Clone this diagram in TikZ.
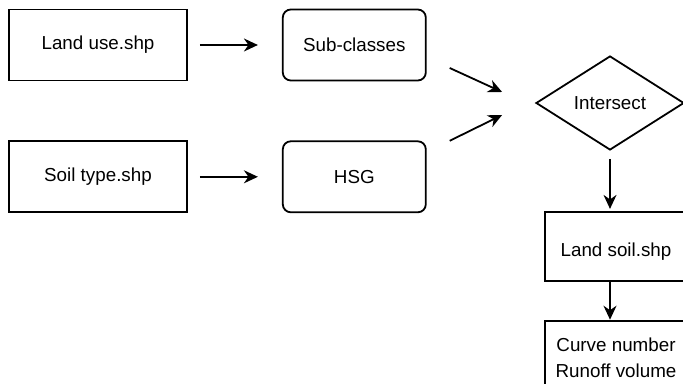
\documentclass[tikz,border=0pt]{standalone}
\usepackage{fontspec}
\setmainfont{Liberation Sans}
\usetikzlibrary{positioning, arrows.meta, shapes.geometric}

\begin{document}
\begin{tikzpicture}[x=0.5pt, y=-0.5pt, node distance=29.5pt and 47pt,
    every node/.style={font=\fontsize{9.4}{13}\selectfont},
    filebox/.style={draw, rectangle, line width=0.9pt, minimum width=89pt, minimum height=35.5pt},
    classbox/.style={draw, rectangle, rounded corners=4pt, line width=0.9pt, minimum width=71.5pt, minimum height=35.5pt},
    outbox/.style={draw, rectangle, line width=0.9pt, minimum width=71pt, align=center},
    arr/.style={-{Stealth[length=7pt, width=6.5pt]}, line width=0.9pt}]
    \useasboundingbox[fill=white] (0,0) rectangle (683,384);
    % Components
    \node[filebox] (landuse) at (98,45) {Land use.shp};
    \node[filebox, below=of landuse] (soiltype) {Soil type.shp};
    \node[classbox, right=of landuse] (subclasses) {Sub-classes};
    \node[classbox, right=of soiltype] (hsg) {HSG};
    \node[draw, diamond, line width=0.9pt, inner sep=0pt, minimum width=74pt, minimum height=47pt] (isect) at (610,103) {Intersect};
    \node[outbox, minimum height=34.5pt, text height=12pt, text depth=2pt, below=30pt of isect, xshift=3pt] (landsoil) {Land soil.shp};
    \node[outbox, minimum height=37pt, below=19pt of landsoil] (runoff) {Curve number\\Runoff volume};
    % Arrows
    \draw[arr, shorten <=6pt, shorten >=12pt] (landuse) -- (subclasses);
    \draw[arr, shorten <=6pt, shorten >=12pt] (soiltype) -- (hsg);
    \draw[arr] ([shift={(23,23)}]subclasses.east) -- ([shift={(-33,-11)}]isect.west);
    \draw[arr] ([shift={(23,-36)}]hsg.east) -- ([shift={(-33,12)}]isect.west);
    \draw[arr, shorten <=4pt, shorten >=1pt] (isect.south) -- (isect.south |- landsoil.north);
    \draw[arr] (isect.south |- landsoil.south) -- (isect.south |- runoff.north);
\end{tikzpicture}
\end{document}
